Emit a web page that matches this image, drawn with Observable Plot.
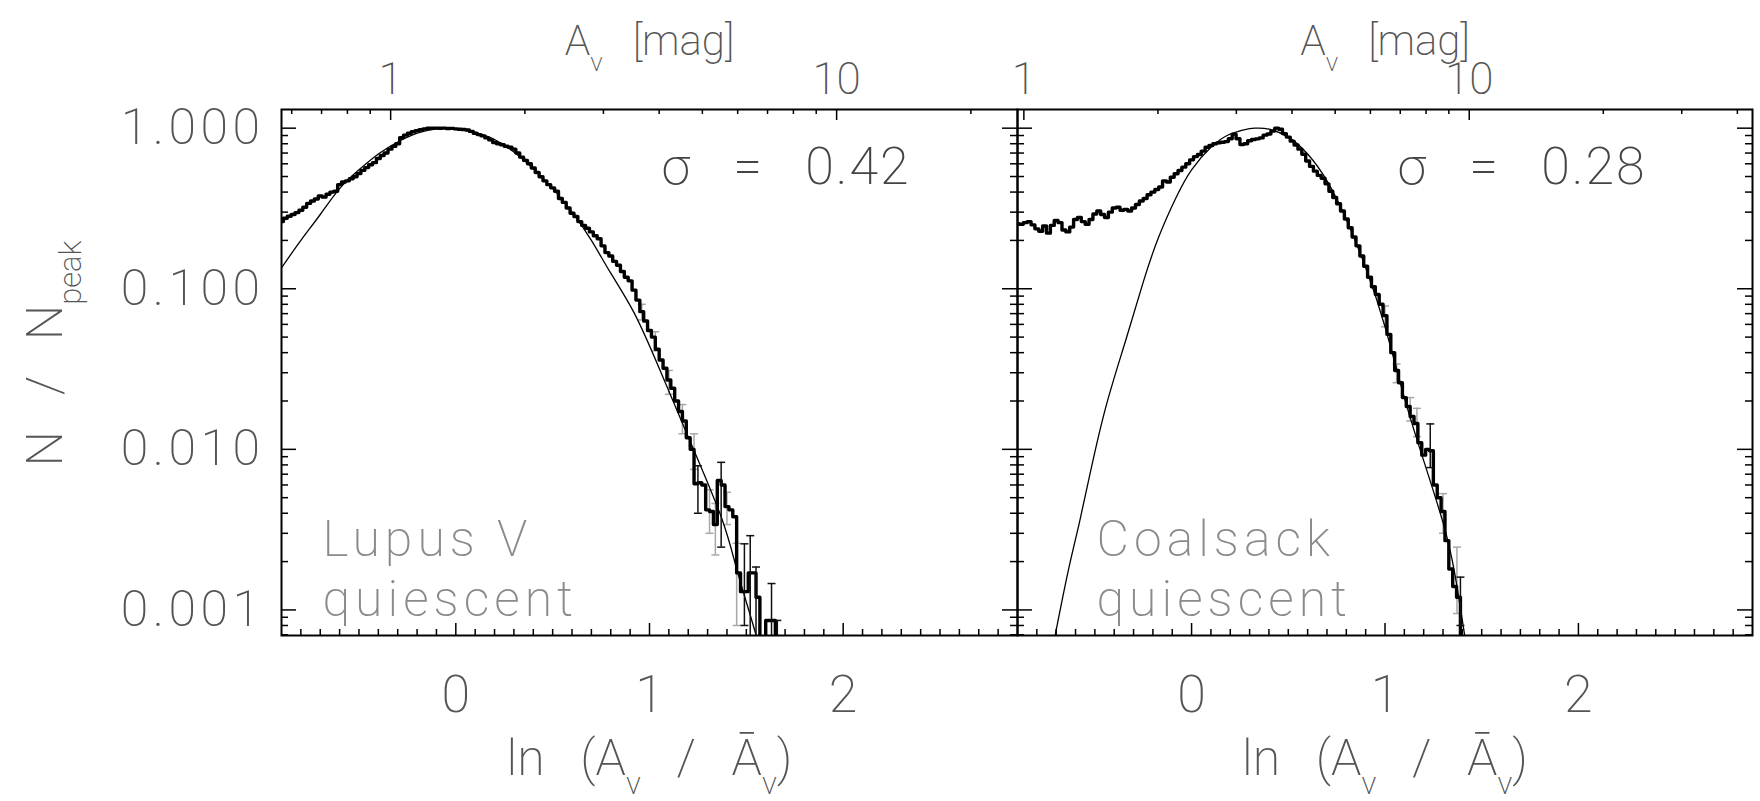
<!DOCTYPE html>
<html>
<head>
<meta charset="utf-8">
<script src="https://cdn.jsdelivr.net/npm/d3@7"></script>
<script src="https://cdn.jsdelivr.net/npm/@observablehq/plot@0.6"></script>
<style>
  html, body { margin: 0; padding: 0; background: #fff; }
  #chart { position: relative; width: 1760px; height: 801px; overflow: hidden; background: #fff; }
  #chart svg { position: absolute; top: 0; }
  #chart text { white-space: pre; }
</style>
</head>
<body>
<div id="chart"></div>
<script>
// ---------------- Lupus V (quiescent) ----------------
const lupusX = [-0.90,-0.88,-0.86,-0.84,-0.82,-0.80,-0.78,-0.76,-0.74,-0.72,-0.70,-0.68,-0.66,-0.64,-0.62,-0.60,-0.58,-0.56,-0.54,-0.52,-0.50,-0.48,-0.46,-0.44,-0.42,-0.40,-0.38,-0.36,-0.34,-0.32,-0.30,-0.28,-0.26,-0.24,-0.22,-0.20,-0.18,-0.16,-0.14,-0.12,-0.10,-0.08,-0.06,-0.04,-0.02,0.00,0.02,0.04,0.06,0.08,0.10,0.12,0.14,0.16,0.18,0.20,0.22,0.24,0.26,0.28,0.30,0.32,0.34,0.36,0.38,0.40,0.42,0.44,0.46,0.48,0.50,0.52,0.54,0.56,0.58,0.60,0.62,0.64,0.66,0.68,0.70,0.72,0.74,0.76,0.78,0.80,0.82,0.84,0.86,0.88,0.90,0.92,0.94,0.96,0.98,1.00,1.02,1.04,1.06,1.08,1.10,1.12,1.14,1.16,1.18,1.20,1.22,1.24,1.26,1.28,1.30,1.32,1.34,1.36,1.38,1.40,1.42,1.44,1.46,1.48,1.50,1.52,1.54,1.56,1.58,1.62,1.64,1.66];
const lupusN = [0.262,0.275,0.283,0.290,0.298,0.308,0.322,0.340,0.352,0.362,0.378,0.372,0.388,0.400,0.405,0.445,0.462,0.470,0.484,0.498,0.522,0.546,0.568,0.592,0.610,0.648,0.676,0.700,0.740,0.770,0.800,0.872,0.905,0.930,0.950,0.965,0.978,0.990,0.998,1.000,1.000,0.998,1.000,0.995,0.997,0.990,0.985,0.982,0.975,0.955,0.930,0.912,0.895,0.870,0.845,0.815,0.800,0.788,0.772,0.760,0.740,0.700,0.660,0.630,0.600,0.565,0.530,0.498,0.470,0.445,0.425,0.405,0.365,0.345,0.318,0.295,0.282,0.262,0.248,0.238,0.226,0.214,0.205,0.185,0.168,0.160,0.148,0.140,0.128,0.118,0.112,0.098,0.085,0.072,0.063,0.055,0.050,0.042,0.036,0.032,0.027,0.024,0.020,0.0172,0.0150,0.0118,0.0100,0.0061,0.0062,0.0060,0.0042,0.0041,0.0034,0.0064,0.0060,0.0044,0.0042,0.0038,0.0017,0.0013,0.0013,0.0017,0.0017,0.0012,0.0005,0.00086,0.00086,0.0005];
const lupusFitX = [-0.90,-0.80,-0.70,-0.60,-0.50,-0.40,-0.30,-0.20,-0.10,0.00,0.10,0.20,0.30,0.40,0.50,0.60,0.70,0.80,0.92,1.05,1.21,1.37,1.45,1.52,1.58];
const lupusFitN = [0.135,0.20,0.29,0.42,0.55,0.69,0.82,0.93,0.99,0.995,0.94,0.85,0.71,0.56,0.42,0.30,0.20,0.125,0.071,0.032,0.0112,0.0038,0.0018,0.00093,0.00052];
const lupusErrX    = [0.96,1.03,1.10,1.17,1.23,1.25,1.31,1.34,1.37,1.40,1.45,1.49,1.52,1.55,1.63,1.66];
const lupusErrLo   = [0.064,0.041,0.022,0.0125,0.0075,0.0040,0.0030,0.0022,0.00246,0.0034,0.0008,0.0008,0.0006,0.0006,0.0006,0.0006];
const lupusErrHi   = [0.080,0.054,0.031,0.019,0.0125,0.0079,0.0056,0.0046,0.0083,0.0054,0.0026,0.00258,0.0029,0.00185,0.00146,0.00086];
const lupusErrDark = [false,false,false,false,false,true,false,false,true,false,false,true,true,true,true,true];
const lupusMeanAv = 1.40;
const lupusSigma = "0.42";
const lupusName = "Lupus V\nquiescent";

// ---------------- Coalsack (quiescent) ----------------
const coalX = [-0.90,-0.88,-0.86,-0.84,-0.82,-0.80,-0.78,-0.76,-0.74,-0.72,-0.70,-0.68,-0.66,-0.64,-0.62,-0.60,-0.58,-0.56,-0.54,-0.52,-0.50,-0.48,-0.46,-0.44,-0.42,-0.40,-0.38,-0.36,-0.34,-0.32,-0.30,-0.28,-0.26,-0.24,-0.22,-0.20,-0.18,-0.16,-0.14,-0.12,-0.10,-0.08,-0.06,-0.04,-0.02,0.00,0.02,0.04,0.06,0.08,0.10,0.12,0.14,0.16,0.18,0.20,0.22,0.24,0.26,0.28,0.30,0.32,0.34,0.36,0.38,0.40,0.42,0.44,0.46,0.48,0.50,0.52,0.54,0.56,0.58,0.60,0.62,0.64,0.66,0.68,0.70,0.72,0.74,0.76,0.78,0.80,0.82,0.84,0.86,0.88,0.90,0.92,0.94,0.96,0.98,1.00,1.02,1.04,1.06,1.08,1.10,1.12,1.14,1.16,1.18,1.20,1.22,1.24,1.26,1.28,1.30,1.32,1.34,1.36,1.38,1.40];
const coalN = [0.254,0.252,0.258,0.262,0.250,0.236,0.228,0.246,0.222,0.248,0.266,0.258,0.232,0.226,0.242,0.270,0.278,0.262,0.252,0.270,0.292,0.305,0.290,0.278,0.300,0.318,0.322,0.308,0.312,0.305,0.318,0.335,0.352,0.365,0.385,0.400,0.415,0.430,0.470,0.462,0.495,0.520,0.545,0.572,0.600,0.635,0.665,0.685,0.720,0.760,0.780,0.800,0.810,0.818,0.825,0.860,0.918,0.860,0.790,0.800,0.835,0.850,0.858,0.870,0.905,0.920,0.960,1.000,0.985,0.925,0.880,0.830,0.785,0.740,0.688,0.625,0.578,0.540,0.508,0.488,0.450,0.405,0.370,0.338,0.305,0.272,0.240,0.210,0.185,0.160,0.138,0.118,0.103,0.092,0.080,0.068,0.052,0.040,0.031,0.026,0.021,0.0185,0.0160,0.0145,0.0110,0.0092,0.0100,0.0098,0.0060,0.0050,0.0041,0.0027,0.0018,0.0014,0.0012,0.0003];
const coalFitX = [-0.71,-0.64,-0.58,-0.52,-0.44,-0.34,-0.25,-0.17,-0.08,0.00,0.10,0.20,0.30,0.34,0.40,0.50,0.60,0.70,0.80,0.90,1.00,1.10,1.20,1.30,1.36,1.42];
const coalFitN = [0.00065,0.0017,0.0035,0.0075,0.019,0.048,0.11,0.21,0.37,0.55,0.76,0.92,0.995,1.0,0.985,0.88,0.69,0.47,0.27,0.135,0.058,0.021,0.0085,0.0035,0.0017,0.0006];
const coalErrX    = [1.00,1.06,1.13,1.165,1.234,1.30,1.372,1.39];
const coalErrLo   = [0.058,0.026,0.015,0.012,0.0077,0.0030,0.00095,0.0008];
const coalErrHi   = [0.078,0.034,0.021,0.018,0.0144,0.0053,0.00246,0.0016];
const coalErrDark = [false,false,false,false,true,false,false,true];
const coalMeanAv = 2.38;
const coalSigma = "0.28";
const coalName = "Coalsack\nquiescent";

// ---------------- axes ----------------
const yMajor = [0.001, 0.01, 0.1, 1];
const yMajorLabels = ["0.001", "0.010", "0.100", "1.000"];
const xMajor = [0, 1, 2];
const xMajorLabels = ["0", "1", "2"];
const avMajor = [1, 10];
const avMajorLabels = ["1", "10"];
const avMinor = [0.5,0.6,0.7,0.8,0.9,2,3,4,5,6,7,8,9,20,30,40,50];
const SP = "\u2002\u2009"; // wide gap between words
const xTitle = `ln${SP}(A_{v}${SP}/${SP}Ā_{v})`;
const yTitle = `N${SP}/${SP}N_{peak}`;
const avTitle = `A_{v}${SP}[mag]`;

// ---------------- layout ----------------
const H = 801, M_TOP = 109, M_BOTTOM = 166;
const X_DOMAIN = [-0.9, 2.9];
const Y_DOMAIN = [6.93e-4, 1.307];
const FONT = "Roboto, 'Liberation Sans', sans-serif";
const WEIGHT = 200;
const INK = "#555";

const yMinor = [];
for (let e = -4; e <= 0; e++) for (let m = 2; m <= 9; m++) {
  const v = m * 10 ** e;
  if (v >= Y_DOMAIN[0] && v <= Y_DOMAIN[1]) yMinor.push(v);
}
const xMinor = d3.range(-8, 29).filter(i => i % 10 !== 0).map(i => i / 10);

// extra tracking for the wide-set labels, keyed by their text
const tracking = new Map([
  ...yMajorLabels.map(s => [s, 4.5]),
  [lupusName, 5], [coalName, 5],
  [`σ${SP}=${SP}${lupusSigma}`, 2], [`σ${SP}=${SP}${coalSigma}`, 2]
]);

const capSymbol = {
  draw(ctx, size) { const w = Math.sqrt(size / Math.PI); ctx.moveTo(-w, 0); ctx.lineTo(w, 0); }
};

function panel({width, left, marginLeft, marginRight, xs, ns, fitX, fitN, errX, errLo, errHi, errDark, meanAv, sigma, name, nameDx, showY}) {
  const frameW = width - marginLeft - marginRight;
  const frameH = H - M_TOP - M_BOTTOM;
  const hist = xs.map((x, i) => ({x, n: ns[i]}));
  const fit = fitX.map((x, i) => ({x, n: fitN[i]}));
  const errs = errX.map((x, i) => ({x, lo: errLo[i], hi: errHi[i], dark: errDark[i]}));
  const light = errs.filter(d => !d.dark), dark = errs.filter(d => d.dark);
  const toLn = a => Math.log(a / meanAv);
  const avVisible = v => toLn(v) > X_DOMAIN[0] && toLn(v) < X_DOMAIN[1];
  const txt = {fontFamily: FONT, fontWeight: WEIGHT, fill: INK};
  const errMarks = (set, color) => [
    Plot.ruleX(set, {x: "x", y1: "lo", y2: "hi", stroke: color, strokeWidth: 1.5, clip: true}),
    Plot.dot(set, {x: "x", y: "hi", symbol: capSymbol, r: 4, fill: "none", stroke: color, strokeWidth: 1.5, clip: true}),
    Plot.dot(set, {x: "x", y: "lo", symbol: capSymbol, r: 4, fill: "none", stroke: color, strokeWidth: 1.5, clip: true})
  ];
  const tick = {stroke: "#000", strokeWidth: 1.5};
  const marks = [
    ...errMarks(light, "#a8a8a8"),
    Plot.line(fit, {x: "x", y: "n", curve: "natural", stroke: "#000", strokeWidth: 1.3, clip: true}),
    Plot.line(hist, {x: "x", y: "n", curve: "step", stroke: "#000", strokeWidth: 3.4, strokeLinejoin: "round", clip: true}),
    ...errMarks(dark, "#111"),
    // tick marks, all pointing into the frame
    Plot.tickY(yMajor, {y: d => d, insetRight: frameW - 15, ...tick}),
    Plot.tickY(yMinor, {y: d => d, insetRight: frameW - 7, ...tick}),
    Plot.tickY(yMajor, {y: d => d, insetLeft: frameW - 15, ...tick}),
    Plot.tickY(yMinor, {y: d => d, insetLeft: frameW - 7, ...tick}),
    Plot.tickX(xMajor, {x: d => d, insetTop: frameH - 12, ...tick}),
    Plot.tickX(xMinor, {x: d => d, insetTop: frameH - 6, ...tick}),
    Plot.tickX(avMajor.filter(avVisible), {x: toLn, insetBottom: frameH - 11, ...tick}),
    Plot.tickX(avMinor.filter(avVisible), {x: toLn, insetBottom: frameH - 5, ...tick}),
    Plot.frame({stroke: "#000", strokeWidth: 2}),
    // tick labels and titles
    Plot.text(xMajor, {x: d => d, text: (d, i) => xMajorLabels[i], frameAnchor: "bottom", lineAnchor: "top", dy: 40, fontSize: 52, ...txt}),
    Plot.text(avMajor, {x: toLn, text: (d, i) => avMajorLabels[i], frameAnchor: "top", lineAnchor: "top", dy: -47, fontSize: 44, ...txt}),
    Plot.text([avTitle], {text: d => d, frameAnchor: "top", lineAnchor: "top", dy: -84, fontSize: 42, ...txt}),
    Plot.text([xTitle], {text: d => d, frameAnchor: "bottom", lineAnchor: "top", dy: 104, fontSize: 50, ...txt}),
    Plot.text([`σ = ${sigma}`], {text: d => d.replace(/ = /, `${SP}=${SP}`), frameAnchor: "top-left", textAnchor: "start", lineAnchor: "top", dx: 380, dy: 38, fontSize: 52, ...txt, fill: "#444"}),
    Plot.text([name], {text: d => d, frameAnchor: "top-left", textAnchor: "start", lineAnchor: "top", dx: nameDx, dy: 404, fontSize: 50, lineHeight: 1.2, ...txt, fill: "#8a8a8a"})
  ];
  if (showY) {
    marks.push(
      Plot.text(yMajor, {y: d => d, text: (d, i) => yMajorLabels[i], frameAnchor: "left", textAnchor: "end", dx: -17, fontSize: 50, ...txt}),
      Plot.text([yTitle], {text: d => d, frameAnchor: "left", textAnchor: "middle", lineAnchor: "middle", rotate: -90, dx: -236, dy: -19, fontSize: 50, ...txt})
    );
  }
  const svg = Plot.plot({
    width, height: H,
    marginLeft, marginRight, marginTop: M_TOP, marginBottom: M_BOTTOM,
    x: {domain: X_DOMAIN, axis: null},
    y: {type: "log", domain: Y_DOMAIN, axis: null},
    style: {background: "none", overflow: "visible"},
    marks
  });
  svg.style.left = left + "px";
  return svg;
}

// letter-spacing for the wide-set labels
function applyTracking(root) {
  root.querySelectorAll("text").forEach(t => {
    const key = t.children.length ? [...t.children].map(c => c.textContent).join("\n") : t.textContent;
    if (tracking.has(key)) t.style.letterSpacing = tracking.get(key) + "px";
  });
}

// turn "_{...}" into lowered, smaller tspans
function applySubscripts(root) {
  root.querySelectorAll("text").forEach(t => {
    const s = t.textContent;
    if (!s.includes("_{") || t.children.length) return;
    const fs = parseFloat(getComputedStyle(t).fontSize);
    const parts = s.split(/(_\{[^}]*\})/).filter(p => p.length);
    t.textContent = "";
    let shifted = 0;
    for (const p of parts) {
      const sub = p.startsWith("_{");
      const span = document.createElementNS("http://www.w3.org/2000/svg", "tspan");
      const target = sub ? fs * 0.38 : 0;
      span.setAttribute("dy", target - shifted);
      shifted = target;
      if (sub) span.setAttribute("font-size", fs * 0.62);
      span.textContent = sub ? p.slice(2, -1) : p;
      t.appendChild(span);
    }
  });
}

const chart = document.getElementById("chart");
chart.appendChild(panel({
  width: 1018, left: 0, marginLeft: 281, marginRight: 1,
  xs: lupusX, ns: lupusN, fitX: lupusFitX, fitN: lupusFitN,
  errX: lupusErrX, errLo: lupusErrLo, errHi: lupusErrHi, errDark: lupusErrDark,
  meanAv: lupusMeanAv, sigma: lupusSigma, name: lupusName, nameDx: 41, showY: true
}));
chart.appendChild(panel({
  width: 744, left: 1016, marginLeft: 1, marginRight: 8,
  xs: coalX, ns: coalN, fitX: coalFitX, fitN: coalFitN,
  errX: coalErrX, errLo: coalErrLo, errHi: coalErrHi, errDark: coalErrDark,
  meanAv: coalMeanAv, sigma: coalSigma, name: coalName, nameDx: 79, showY: false
}));
applyTracking(chart);
applySubscripts(chart);
</script>
</body>
</html>
